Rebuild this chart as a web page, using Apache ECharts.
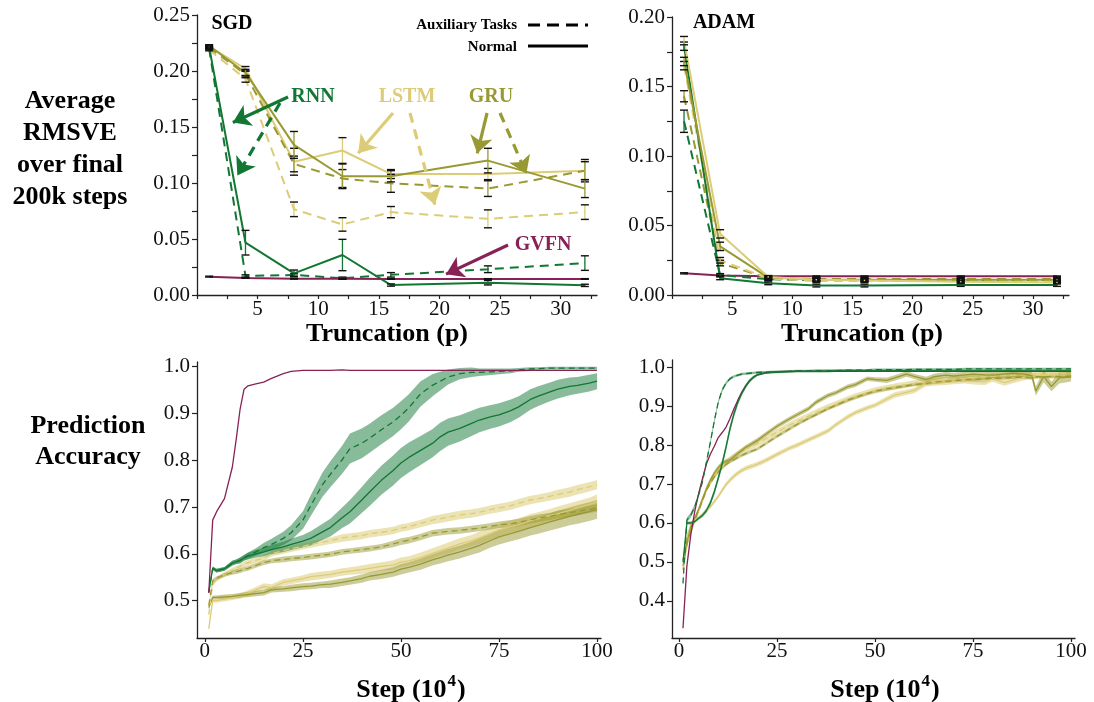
<!DOCTYPE html>
<html><head><meta charset="utf-8">
<script src="https://cdn.jsdelivr.net/npm/echarts@6/dist/echarts.min.js"></script>
<style>html,body{margin:0;padding:0;background:#fff}#c{width:1094px;height:702px}</style>
</head><body><div id="c"></div>
<script>
// ---------- Top panels: RMSVE vs truncation ----------
const truncP = [1, 4, 8, 12, 16, 24, 32];
const truncTicks = [0, 2.5, 5, 7.5, 10, 12.5, 15, 17.5, 20, 22.5, 25, 27.5, 30, 32.5];
const truncLabels = [5, 10, 15, 20, 25, 30];
const rmsTicks = [0, 0.025, 0.05, 0.075, 0.1, 0.125, 0.15, 0.175, 0.2, 0.225, 0.25];
const rmsLabelsSgd = [0, 0.05, 0.1, 0.15, 0.2, 0.25];
const rmsTicksAdam = [0, 0.025, 0.05, 0.075, 0.1, 0.125, 0.15, 0.175, 0.2];
const rmsLabelsAdam = [0, 0.05, 0.1, 0.15, 0.2];

const rnnNormSgd  = [0.2215, 0.0467, 0.0193, 0.0357, 0.0089, 0.0110, 0.0086];
const rnnAuxSgd   = [0.2200, 0.0170, 0.0179, 0.0150, 0.0180, 0.0230, 0.0285];
const lstmNormSgd = [0.2220, 0.2020, 0.1190, 0.1290, 0.1080, 0.1080, 0.1110];
const lstmAuxSgd  = [0.2190, 0.1930, 0.0765, 0.0630, 0.0740, 0.0680, 0.0740];
const gruNormSgd  = [0.2225, 0.1985, 0.1340, 0.1060, 0.1060, 0.1200, 0.0950];
const gruAuxSgd   = [0.2210, 0.1970, 0.1170, 0.1040, 0.0997, 0.0950, 0.1110];
const gvfnSgd     = [0.0164, 0.0152, 0.0145, 0.0145, 0.0143, 0.0143, 0.0143];

const rnnNormSgdErr  = [0.0010, 0.0110, 0.0030, 0.0140, 0.0010, 0.0020, 0.0010];
const rnnAuxSgdErr   = [0.0010, 0.0010, 0.0010, 0.0010, 0.0020, 0.0030, 0.0065];
const lstmNormSgdErr = [0.0010, 0.0020, 0.0120, 0.0115, 0.0040, 0.0050, 0.0100];
const lstmAuxSgdErr  = [0.0010, 0.0030, 0.0065, 0.0060, 0.0050, 0.0080, 0.0065];
const gruNormSgdErr  = [0.0010, 0.0030, 0.0120, 0.0110, 0.0050, 0.0110, 0.0080];
const gruAuxSgdErr   = [0.0010, 0.0030, 0.0070, 0.0080, 0.0080, 0.0070, 0.0080];
const gvfnSgdErr     = [0.0004, 0.0003, 0.0003, 0.0003, 0.0003, 0.0003, 0.0003];

const rnnNormAdam  = [0.1790, 0.0120, 0.0084, 0.0068, 0.0068, 0.0072, 0.0072];
const rnnAuxAdam   = [0.1250, 0.0144, 0.0113, 0.0108, 0.0108, 0.0108, 0.0108];
const lstmNormAdam = [0.1830, 0.0440, 0.0130, 0.0110, 0.0105, 0.0096, 0.0090];
const lstmAuxAdam  = [0.1650, 0.0250, 0.0120, 0.0100, 0.0100, 0.0100, 0.0100];
const gruNormAdam  = [0.1680, 0.0350, 0.0125, 0.0112, 0.0110, 0.0110, 0.0110];
const gruAuxAdam   = [0.1430, 0.0230, 0.0120, 0.0115, 0.0115, 0.0115, 0.0115];
const gvfnAdam     = [0.0156, 0.0141, 0.0134, 0.0134, 0.0134, 0.0134, 0.0134];

const rnnNormAdamErr  = [0.0030, 0.0010, 0.0010, 0.0010, 0.0010, 0.0010, 0.0010];
const rnnAuxAdamErr   = [0.0080, 0.0010, 0.0010, 0.0010, 0.0010, 0.0010, 0.0010];
const lstmNormAdamErr = [0.0030, 0.0030, 0.0010, 0.0010, 0.0010, 0.0010, 0.0010];
const lstmAuxAdamErr  = [0.0030, 0.0020, 0.0010, 0.0010, 0.0010, 0.0010, 0.0010];
const gruNormAdamErr  = [0.0030, 0.0030, 0.0010, 0.0010, 0.0010, 0.0010, 0.0010];
const gruAuxAdamErr   = [0.0040, 0.0020, 0.0010, 0.0010, 0.0010, 0.0010, 0.0010];
const gvfnAdamErr     = [0.0004, 0.0003, 0.0003, 0.0003, 0.0003, 0.0003, 0.0003];

// ---------- Bottom panels: prediction accuracy vs step ----------
const stepTicks = [0, 25, 50, 75, 100];
const accLabelsSgd = [0.5, 0.6, 0.7, 0.8, 0.9, 1.0];
const accLabelsAdam = [0.4, 0.5, 0.6, 0.7, 0.8, 0.9, 1.0];

const sgdSteps = [1,2,3,5,7,8,9,10,11,13,15,17,20,22,25,27,30,32,35,37,40,42,45,48,50,52,55,58,60,62,65,68,70,73,75,78,80,83,85,88,90,93,95,98,100];
const gvfnAccSgd = [0.516,0.672,0.690,0.718,0.785,0.845,0.910,0.952,0.959,0.963,0.967,0.975,0.985,0.990,0.992,0.992,0.992,0.992,0.993,0.992,0.992,0.992,0.992,0.992,0.992,0.992,0.992,0.992,0.992,0.992,0.992,0.992,0.992,0.992,0.992,0.992,0.992,0.992,0.992,0.992,0.992,0.992,0.992,0.992,0.992];
const rnnAuxAccSgd = [0.518,0.569,0.564,0.568,0.580,0.583,0.586,0.592,0.596,0.604,0.613,0.620,0.633,0.645,0.672,0.703,0.748,0.770,0.801,0.825,0.836,0.847,0.865,0.882,0.896,0.912,0.942,0.960,0.969,0.978,0.985,0.988,0.988,0.989,0.990,0.991,0.993,0.995,0.996,0.997,0.997,0.997,0.997,0.997,0.997];
const rnnNormAccSgd = [0.518,0.569,0.564,0.568,0.580,0.583,0.586,0.591,0.595,0.600,0.604,0.609,0.615,0.620,0.627,0.633,0.647,0.656,0.677,0.690,0.715,0.732,0.757,0.778,0.794,0.806,0.821,0.836,0.850,0.860,0.868,0.879,0.886,0.893,0.897,0.906,0.914,0.930,0.937,0.946,0.952,0.958,0.960,0.965,0.969];
const lstmAuxAccSgd = [0.470,0.535,0.545,0.556,0.565,0.569,0.573,0.578,0.581,0.586,0.591,0.600,0.607,0.611,0.616,0.620,0.625,0.628,0.634,0.636,0.639,0.643,0.646,0.650,0.655,0.658,0.665,0.672,0.675,0.678,0.683,0.686,0.689,0.695,0.698,0.703,0.708,0.715,0.718,0.723,0.727,0.732,0.737,0.743,0.748];
const gruAuxAccSgd = [0.490,0.542,0.548,0.555,0.560,0.562,0.564,0.567,0.569,0.575,0.581,0.585,0.588,0.590,0.592,0.594,0.597,0.599,0.604,0.606,0.609,0.611,0.615,0.621,0.626,0.629,0.636,0.644,0.646,0.648,0.650,0.653,0.655,0.659,0.662,0.664,0.667,0.673,0.676,0.680,0.684,0.688,0.691,0.695,0.698];
const lstmNormAccSgd = [0.440,0.500,0.500,0.503,0.506,0.508,0.510,0.513,0.516,0.523,0.530,0.528,0.539,0.542,0.547,0.551,0.554,0.556,0.561,0.563,0.566,0.569,0.573,0.576,0.582,0.585,0.592,0.601,0.607,0.612,0.621,0.628,0.634,0.644,0.651,0.658,0.662,0.671,0.675,0.682,0.686,0.693,0.698,0.705,0.712];
const gruNormAccSgd = [0.485,0.507,0.507,0.508,0.509,0.510,0.511,0.512,0.513,0.515,0.517,0.523,0.525,0.527,0.530,0.531,0.534,0.535,0.539,0.542,0.547,0.552,0.556,0.561,0.567,0.571,0.578,0.587,0.592,0.597,0.604,0.612,0.618,0.629,0.636,0.643,0.648,0.656,0.661,0.668,0.673,0.680,0.684,0.690,0.695];

const rnnAuxBandSgd = [0.003,0.004,0.004,0.004,0.005,0.005,0.006,0.006,0.007,0.008,0.010,0.012,0.014,0.016,0.019,0.022,0.026,0.028,0.030,0.032,0.032,0.031,0.031,0.030,0.030,0.029,0.027,0.024,0.020,0.016,0.012,0.010,0.008,0.007,0.006,0.005,0.004,0.004,0.003,0.003,0.003,0.003,0.003,0.003,0.003];
const rnnNormBandSgd = [0.003,0.004,0.004,0.004,0.005,0.005,0.006,0.006,0.007,0.008,0.009,0.010,0.011,0.012,0.013,0.015,0.017,0.019,0.022,0.025,0.028,0.030,0.031,0.032,0.032,0.032,0.031,0.030,0.030,0.029,0.028,0.027,0.026,0.025,0.025,0.024,0.023,0.022,0.021,0.020,0.020,0.019,0.018,0.018,0.017];
const lstmAuxBandSgd = [0.003,0.004,0.004,0.005,0.005,0.005,0.005,0.006,0.006,0.006,0.006,0.006,0.007,0.007,0.007,0.007,0.007,0.007,0.008,0.008,0.008,0.008,0.008,0.008,0.008,0.008,0.008,0.009,0.009,0.009,0.009,0.009,0.009,0.009,0.009,0.009,0.009,0.009,0.009,0.009,0.010,0.010,0.010,0.010,0.010];
const gruAuxBandSgd = [0.003,0.004,0.004,0.004,0.005,0.005,0.005,0.005,0.005,0.005,0.005,0.005,0.006,0.006,0.006,0.006,0.006,0.006,0.006,0.006,0.006,0.006,0.006,0.007,0.007,0.007,0.007,0.007,0.007,0.007,0.007,0.007,0.007,0.007,0.007,0.008,0.008,0.008,0.008,0.008,0.008,0.008,0.008,0.008,0.008];
const lstmNormBandSgd = [0.003,0.004,0.004,0.005,0.005,0.005,0.006,0.006,0.006,0.006,0.007,0.007,0.007,0.007,0.007,0.008,0.008,0.008,0.008,0.008,0.009,0.009,0.009,0.010,0.010,0.010,0.011,0.011,0.011,0.012,0.012,0.012,0.013,0.013,0.013,0.013,0.014,0.014,0.014,0.014,0.015,0.015,0.015,0.015,0.015];
const gruNormBandSgd = [0.003,0.004,0.004,0.005,0.005,0.005,0.005,0.005,0.006,0.006,0.006,0.006,0.006,0.007,0.007,0.007,0.007,0.008,0.008,0.008,0.009,0.009,0.010,0.010,0.011,0.011,0.012,0.012,0.013,0.013,0.014,0.014,0.015,0.015,0.016,0.016,0.017,0.017,0.018,0.018,0.019,0.019,0.020,0.020,0.020];

const adamSteps = [1,2,3,4,5,6,7,8,9,10,11,12,13,14,15,16,17,18,19,20,22,25,28,30,33,35,38,40,43,45,48,50,53,55,58,60,63,65,68,70,73,75,78,80,83,85,88,90,91,93,95,97,100];
const gvfnAccAdam = [0.330,0.490,0.570,0.630,0.676,0.715,0.752,0.777,0.797,0.819,0.832,0.846,0.868,0.893,0.915,0.935,0.951,0.964,0.974,0.980,0.985,0.988,0.989,0.989,0.989,0.989,0.989,0.989,0.989,0.989,0.989,0.989,0.989,0.989,0.989,0.989,0.989,0.989,0.989,0.989,0.989,0.989,0.989,0.989,0.989,0.989,0.989,0.989,0.989,0.989,0.989,0.989,0.989];
const rnnAuxAccAdam = [0.445,0.608,0.620,0.642,0.672,0.707,0.757,0.808,0.862,0.910,0.941,0.959,0.970,0.976,0.979,0.982,0.983,0.984,0.985,0.986,0.987,0.988,0.989,0.990,0.990,0.991,0.991,0.991,0.992,0.992,0.992,0.993,0.993,0.993,0.993,0.994,0.994,0.994,0.994,0.994,0.995,0.995,0.995,0.995,0.995,0.995,0.995,0.995,0.995,0.995,0.995,0.995,0.995];
const rnnNormAccAdam = [0.500,0.600,0.600,0.604,0.612,0.620,0.632,0.652,0.680,0.715,0.752,0.795,0.842,0.880,0.910,0.933,0.951,0.965,0.974,0.980,0.985,0.987,0.988,0.989,0.989,0.989,0.989,0.990,0.990,0.990,0.990,0.990,0.990,0.990,0.990,0.990,0.990,0.990,0.990,0.990,0.990,0.990,0.990,0.990,0.990,0.990,0.990,0.990,0.990,0.990,0.990,0.990,0.990];
const gruNormAccAdam = [0.505,0.550,0.590,0.612,0.635,0.662,0.688,0.710,0.728,0.742,0.753,0.758,0.762,0.770,0.778,0.786,0.794,0.800,0.806,0.812,0.827,0.848,0.866,0.877,0.893,0.910,0.927,0.934,0.949,0.955,0.970,0.968,0.966,0.972,0.982,0.976,0.968,0.975,0.979,0.977,0.980,0.982,0.980,0.979,0.982,0.984,0.982,0.978,0.938,0.976,0.950,0.972,0.975];
const gruAuxAccAdam = [0.490,0.545,0.580,0.607,0.632,0.658,0.684,0.703,0.718,0.731,0.742,0.750,0.757,0.762,0.768,0.773,0.778,0.782,0.786,0.790,0.803,0.822,0.840,0.852,0.868,0.878,0.893,0.902,0.915,0.922,0.932,0.938,0.944,0.947,0.952,0.955,0.958,0.961,0.963,0.965,0.967,0.968,0.970,0.971,0.972,0.973,0.974,0.974,0.975,0.975,0.976,0.976,0.977];
const lstmAuxAccAdam = [0.480,0.540,0.578,0.605,0.632,0.660,0.688,0.707,0.722,0.735,0.746,0.755,0.763,0.770,0.777,0.783,0.789,0.794,0.799,0.804,0.816,0.833,0.850,0.860,0.874,0.884,0.897,0.905,0.917,0.925,0.934,0.940,0.946,0.950,0.955,0.958,0.962,0.964,0.967,0.969,0.971,0.973,0.975,0.976,0.978,0.979,0.980,0.981,0.981,0.982,0.982,0.983,0.984];
const lstmNormAccAdam = [0.480,0.565,0.595,0.607,0.613,0.622,0.632,0.642,0.655,0.668,0.684,0.699,0.710,0.720,0.728,0.735,0.740,0.744,0.747,0.751,0.760,0.776,0.791,0.799,0.813,0.822,0.836,0.852,0.872,0.883,0.895,0.902,0.918,0.928,0.935,0.940,0.958,0.960,0.962,0.964,0.966,0.963,0.962,0.970,0.960,0.966,0.974,0.976,0.977,0.979,0.978,0.979,0.979];

const rnnAuxBandAdam = [0.004,0.006,0.006,0.006,0.006,0.006,0.006,0.006,0.006,0.005,0.005,0.004,0.004,0.003,0.003,0.003,0.003,0.003,0.003,0.003,0.003,0.003,0.003,0.003,0.003,0.003,0.003,0.003,0.003,0.003,0.003,0.003,0.003,0.003,0.003,0.003,0.003,0.003,0.003,0.003,0.003,0.003,0.003,0.003,0.003,0.003,0.003,0.003,0.003,0.003,0.003,0.003,0.003];
const rnnNormBandAdam = [0.004,0.004,0.004,0.004,0.004,0.005,0.006,0.007,0.008,0.009,0.010,0.010,0.010,0.009,0.008,0.007,0.006,0.005,0.004,0.003,0.003,0.003,0.003,0.003,0.003,0.003,0.003,0.003,0.003,0.003,0.003,0.003,0.003,0.003,0.003,0.003,0.003,0.003,0.003,0.003,0.003,0.003,0.003,0.003,0.003,0.003,0.003,0.003,0.003,0.003,0.003,0.003,0.003];
const gruNormBandAdam = [0.004,0.005,0.006,0.006,0.006,0.006,0.006,0.006,0.006,0.006,0.006,0.006,0.006,0.006,0.006,0.006,0.006,0.006,0.006,0.006,0.006,0.006,0.006,0.006,0.006,0.006,0.006,0.006,0.006,0.006,0.006,0.006,0.007,0.007,0.007,0.007,0.007,0.008,0.008,0.008,0.008,0.008,0.009,0.009,0.009,0.009,0.010,0.010,0.012,0.015,0.012,0.014,0.012];
const gruAuxBandAdam = [0.004,0.004,0.004,0.004,0.004,0.004,0.004,0.004,0.004,0.004,0.004,0.004,0.004,0.004,0.004,0.004,0.004,0.004,0.004,0.004,0.004,0.004,0.004,0.004,0.004,0.004,0.004,0.004,0.004,0.004,0.004,0.004,0.004,0.004,0.004,0.004,0.004,0.004,0.004,0.004,0.004,0.004,0.004,0.004,0.004,0.004,0.004,0.004,0.004,0.004,0.004,0.004,0.004];
const lstmAuxBandAdam = [0.005,0.006,0.007,0.007,0.008,0.008,0.008,0.008,0.008,0.008,0.008,0.008,0.008,0.008,0.008,0.008,0.008,0.008,0.008,0.008,0.008,0.008,0.008,0.008,0.008,0.008,0.008,0.008,0.008,0.008,0.008,0.008,0.008,0.008,0.008,0.008,0.008,0.008,0.008,0.008,0.008,0.008,0.008,0.008,0.008,0.008,0.008,0.008,0.008,0.008,0.008,0.008,0.008];
const lstmNormBandAdam = [0.004,0.005,0.005,0.005,0.005,0.005,0.005,0.005,0.005,0.005,0.006,0.006,0.006,0.006,0.006,0.006,0.006,0.006,0.006,0.006,0.006,0.006,0.006,0.006,0.006,0.006,0.006,0.006,0.006,0.006,0.006,0.006,0.007,0.007,0.007,0.007,0.008,0.008,0.008,0.008,0.008,0.008,0.008,0.008,0.008,0.008,0.008,0.008,0.008,0.008,0.008,0.008,0.008];

// ---------- styling ----------
const FONT = '"Liberation Serif", "Times New Roman", serif';
const COL = { rnn: '#117733', lstm: '#DDCC77', gru: '#999933', gvfn: '#882255' };
const AX = '#222';
function rgba(hex, a) {
  const n = parseInt(hex.slice(1), 16);
  return 'rgba(' + ((n >> 16) & 255) + ',' + ((n >> 8) & 255) + ',' + (n & 255) + ',' + a + ')';
}

const series = [];
function addLine(g, xs, ys, color, dash, width, extra) {
  series.push(Object.assign({
    type: 'line', xAxisIndex: g, yAxisIndex: g, symbol: 'none', silent: true, z: 3,
    data: xs.map((x, i) => [x, ys[i]]),
    lineStyle: { color: color, width: width, type: dash || 'solid' },
    itemStyle: { color: color }
  }, extra || {}));
}
function addErr(g, xs, ys, es, color) {
  series.push({
    type: 'custom', xAxisIndex: g, yAxisIndex: g, silent: true, z: 4,
    data: xs.map((x, i) => [x, ys[i] - es[i], ys[i] + es[i]]),
    encode: { x: 0, y: [1, 2] },
    renderItem: function (params, api) {
      const lo = api.coord([api.value(0), api.value(1)]);
      const hi = api.coord([api.value(0), api.value(2)]);
      const w = 4;
      return { type: 'group', children: [
        { type: 'line', shape: { x1: lo[0], y1: lo[1], x2: hi[0], y2: hi[1] }, style: { stroke: color, lineWidth: 1.3 } },
        { type: 'line', shape: { x1: lo[0] - w, y1: lo[1], x2: lo[0] + w, y2: lo[1] }, style: { stroke: '#111', lineWidth: 1.4 } },
        { type: 'line', shape: { x1: hi[0] - w, y1: hi[1], x2: hi[0] + w, y2: hi[1] }, style: { stroke: '#111', lineWidth: 1.4 } }
      ] };
    }
  });
}
function addBand(g, xs, ys, bs, color, alpha) {
  series.push({
    type: 'custom', xAxisIndex: g, yAxisIndex: g, silent: true, z: 1, clip: true,
    data: xs.map((x, i) => [x, ys[i] - bs[i], ys[i] + bs[i]]),
    encode: { x: 0, y: [1, 2] },
    renderItem: function (params, api) {
      if (params.dataIndex !== 0) return null;
      const pts = [];
      for (let i = 0; i < xs.length; i++) pts.push(api.coord([xs[i], ys[i] + bs[i]]));
      for (let i = xs.length - 1; i >= 0; i--) pts.push(api.coord([xs[i], ys[i] - bs[i]]));
      return { type: 'polygon', shape: { points: pts }, style: { fill: rgba(color, alpha) } };
    }
  });
}

const DT = [9, 6];      // top dashes
const DB = [6, 4];      // bottom dashes
function arrow(from, to, color, dashed) {
  return [{ coord: from, lineStyle: { color: color, width: 3.2, type: dashed ? [10, 7] : 'solid' } }, { coord: to }];
}
const markBase = { silent: true, symbol: ['none', 'arrow'], symbolSize: 17, label: { show: false }, animation: false };

// Top-left SGD
addLine(0, truncP, lstmAuxSgd, COL.lstm, DT, 2, { markLine: Object.assign({}, markBase, { data: [
  arrow([16.17, 0.1625], [13.3, 0.1265], COL.lstm, false),
  arrow([17.57, 0.1625], [19.62, 0.0805], COL.lstm, true)] }) });
addLine(0, truncP, lstmNormSgd, COL.lstm, 'solid', 2);
addLine(0, truncP, gruAuxSgd, COL.gru, DT, 2, { markLine: Object.assign({}, markBase, { data: [
  arrow([23.93, 0.1625], [23.12, 0.1265], COL.gru, false),
  arrow([25.0, 0.1625], [27.17, 0.1082], COL.gru, true)] }) });
addLine(0, truncP, gruNormSgd, COL.gru, 'solid', 2);
addLine(0, truncP, rnnAuxSgd, COL.rnn, DT, 2, { markLine: Object.assign({}, markBase, { data: [
  arrow([7.51, 0.1768], [2.96, 0.1540], COL.rnn, false),
  arrow([6.85, 0.1714], [3.33, 0.1068], COL.rnn, true)] }) });
addLine(0, truncP, rnnNormSgd, COL.rnn, 'solid', 2);
addLine(0, truncP, gvfnSgd, COL.gvfn, 'solid', 2, { markLine: Object.assign({}, markBase, { data: [
  arrow([25.66, 0.0446], [20.55, 0.0186], COL.gvfn, false)] }) });
addErr(0, truncP, lstmAuxSgd, lstmAuxSgdErr, COL.lstm);
addErr(0, truncP, lstmNormSgd, lstmNormSgdErr, COL.lstm);
addErr(0, truncP, gruAuxSgd, gruAuxSgdErr, COL.gru);
addErr(0, truncP, gruNormSgd, gruNormSgdErr, COL.gru);
addErr(0, truncP, rnnAuxSgd, rnnAuxSgdErr, COL.rnn);
addErr(0, truncP, rnnNormSgd, rnnNormSgdErr, COL.rnn);
addErr(0, truncP, gvfnSgd, gvfnSgdErr, COL.gvfn);

// Top-right ADAM
addLine(1, truncP, gvfnAdam, COL.gvfn, 'solid', 2);
addLine(1, truncP, rnnAuxAdam, COL.rnn, DT, 2);
addLine(1, truncP, gruAuxAdam, COL.gru, DT, 2);
addLine(1, truncP, lstmAuxAdam, COL.lstm, DT, 2);
addLine(1, truncP, rnnNormAdam, COL.rnn, 'solid', 2);
addLine(1, truncP, gruNormAdam, COL.gru, 'solid', 2);
addLine(1, truncP, lstmNormAdam, COL.lstm, 'solid', 2);
addErr(1, truncP, gvfnAdam, gvfnAdamErr, COL.gvfn);
addErr(1, truncP, rnnAuxAdam, rnnAuxAdamErr, COL.rnn);
addErr(1, truncP, gruAuxAdam, gruAuxAdamErr, COL.gru);
addErr(1, truncP, lstmAuxAdam, lstmAuxAdamErr, COL.lstm);
addErr(1, truncP, rnnNormAdam, rnnNormAdamErr, COL.rnn);
addErr(1, truncP, gruNormAdam, gruNormAdamErr, COL.gru);
addErr(1, truncP, lstmNormAdam, lstmNormAdamErr, COL.lstm);

// Bottom-left SGD accuracy
addBand(2, sgdSteps, lstmNormAccSgd, lstmNormBandSgd, COL.lstm, 0.55);
addBand(2, sgdSteps, gruNormAccSgd, gruNormBandSgd, COL.gru, 0.5);
addBand(2, sgdSteps, lstmAuxAccSgd, lstmAuxBandSgd, COL.lstm, 0.55);
addBand(2, sgdSteps, gruAuxAccSgd, gruAuxBandSgd, COL.gru, 0.5);
addBand(2, sgdSteps, rnnNormAccSgd, rnnNormBandSgd, COL.rnn, 0.5);
addBand(2, sgdSteps, rnnAuxAccSgd, rnnAuxBandSgd, COL.rnn, 0.5);
addLine(2, sgdSteps, lstmNormAccSgd, COL.lstm, 'solid', 1.3);
addLine(2, sgdSteps, gruNormAccSgd, COL.gru, 'solid', 1.3);
addLine(2, sgdSteps, lstmAuxAccSgd, COL.lstm, DB, 1.3);
addLine(2, sgdSteps, gruAuxAccSgd, COL.gru, DB, 1.3);
addLine(2, sgdSteps, rnnNormAccSgd, COL.rnn, 'solid', 1.3);
addLine(2, sgdSteps, rnnAuxAccSgd, COL.rnn, DB, 1.3);
addLine(2, sgdSteps, gvfnAccSgd, COL.gvfn, 'solid', 1.3);

// Bottom-right ADAM accuracy
addBand(3, adamSteps, lstmNormAccAdam, lstmNormBandAdam, COL.lstm, 0.55);
addBand(3, adamSteps, lstmAuxAccAdam, lstmAuxBandAdam, COL.lstm, 0.55);
addBand(3, adamSteps, gruAuxAccAdam, gruAuxBandAdam, COL.gru, 0.5);
addBand(3, adamSteps, gruNormAccAdam, gruNormBandAdam, COL.gru, 0.5);
addBand(3, adamSteps, rnnNormAccAdam, rnnNormBandAdam, COL.rnn, 0.5);
addBand(3, adamSteps, rnnAuxAccAdam, rnnAuxBandAdam, COL.rnn, 0.5);
addLine(3, adamSteps, lstmNormAccAdam, COL.lstm, 'solid', 1.3);
addLine(3, adamSteps, lstmAuxAccAdam, COL.lstm, DB, 1.3);
addLine(3, adamSteps, gruAuxAccAdam, COL.gru, DB, 1.3);
addLine(3, adamSteps, gruNormAccAdam, COL.gru, 'solid', 1.3);
addLine(3, adamSteps, gvfnAccAdam, COL.gvfn, 'solid', 1.3);
addLine(3, adamSteps, rnnNormAccAdam, COL.rnn, 'solid', 1.3);
addLine(3, adamSteps, rnnAuxAccAdam, COL.rnn, DB, 1.3);

// ---------- axes ----------
function xAx(g, min, max, ticks, labels, margin) {
  return {
    gridIndex: g, type: 'value', min: min, max: max,
    axisLine: { show: true, onZero: false, lineStyle: { color: AX, width: 1.3 } },
    axisTick: { show: true, customValues: ticks, length: 4, lineStyle: { color: AX, width: 1.2 } },
    axisLabel: { customValues: labels, fontFamily: FONT, fontSize: 21, color: '#111', margin: margin },
    splitLine: { show: false }
  };
}
function yAx(g, min, max, ticks, labels, digits) {
  return {
    gridIndex: g, type: 'value', min: min, max: max,
    axisLine: { show: true, onZero: false, lineStyle: { color: AX, width: 1.3 } },
    axisTick: { show: true, customValues: ticks, length: 5, lineStyle: { color: AX, width: 1.2 } },
    axisLabel: { customValues: labels, fontFamily: FONT, fontSize: 21, color: '#111', margin: 7,
      formatter: v => Number(v).toFixed(digits) },
    splitLine: { show: false }
  };
}

// ---------- text / legend ----------
function txt(x, y, text, font, color, align, lineHeight) {
  return { type: 'text', x: x, y: y, silent: true, z: 50,
    style: { text: text, font: font, fill: color, align: align || 'center', textAlign: align || 'center',
      verticalAlign: 'middle', textVerticalAlign: 'middle', lineHeight: lineHeight || undefined } };
}
const B26 = 'bold 26px ' + FONT;
const B20 = 'bold 20px ' + FONT;
const B15 = 'bold 15px ' + FONT;
const stepTitle = (x) => ({ type: 'text', x: x, y: 688, silent: true, z: 50,
  style: { text: '{m|Step (10}{s|4}{m|)}', align: 'center', textAlign: 'center', verticalAlign: 'middle', textVerticalAlign: 'middle',
    rich: { m: { fontFamily: FONT, fontWeight: 'bold', fontSize: 26, fill: '#000', color: '#000', lineHeight: 30, verticalAlign: 'bottom' },
            s: { fontFamily: FONT, fontWeight: 'bold', fontSize: 17, fill: '#000', color: '#000', lineHeight: 30, verticalAlign: 'top', padding: [0, 1, 0, 1] } } } });

const graphics = [
  txt(70, 149, 'Average\nRMSVE\nover final\n200k steps', B26, '#000', 'center', 32),
  txt(88, 442, 'Prediction\nAccuracy', B26, '#000', 'center', 31),
  txt(387, 334, 'Truncation (p)', B26, '#000'),
  txt(862, 334, 'Truncation (p)', B26, '#000'),
  stepTitle(411), stepTitle(885),
  txt(232, 24, 'SGD', B20, '#000'),
  txt(724, 23, 'ADAM', B20, '#000'),
  txt(517, 25, 'Auxiliary Tasks', B15, '#000', 'right'),
  txt(517, 47, 'Normal', B15, '#000', 'right'),
  { type: 'line', silent: true, z: 50, shape: { x1: 528, y1: 25, x2: 588, y2: 25 }, style: { stroke: '#000', lineWidth: 3, lineDash: [12, 7] } },
  { type: 'line', silent: true, z: 50, shape: { x1: 528, y1: 46, x2: 588, y2: 46 }, style: { stroke: '#000', lineWidth: 3 } },
  txt(313, 97, 'RNN', B20, COL.rnn),
  txt(407, 97, 'LSTM', B20, COL.lstm),
  txt(491, 97, 'GRU', B20, COL.gru),
  txt(543, 245, 'GVFN', B20, COL.gvfn)
];

const chart = echarts.init(document.getElementById('c'), null, { renderer: 'canvas' });
chart.setOption({
  animation: false,
  backgroundColor: '#fff',
  grid: [
    { left: 197, top: 15, width: 400, height: 280 },
    { left: 672, top: 17, width: 397, height: 278 },
    { left: 197, top: 362, width: 404, height: 276 },
    { left: 672, top: 360, width: 403, height: 278 }
  ],
  xAxis: [
    xAx(0, 0, 33, truncTicks, truncLabels, 4),
    xAx(1, 0, 33, truncTicks, truncLabels, 4),
    xAx(2, -2, 101, stepTicks, stepTicks, 3),
    xAx(3, -1.8, 101, stepTicks, stepTicks, 3)
  ],
  yAxis: [
    yAx(0, 0, 0.25, rmsTicks, rmsLabelsSgd, 2),
    yAx(1, 0, 0.2, rmsTicksAdam, rmsLabelsAdam, 2),
    yAx(2, 0.42, 1.01, accLabelsSgd, accLabelsSgd, 1),
    yAx(3, 0.305, 1.018, accLabelsAdam, accLabelsAdam, 1)
  ],
  series: series,
  graphic: { elements: graphics }
});
</script>
</body></html>
